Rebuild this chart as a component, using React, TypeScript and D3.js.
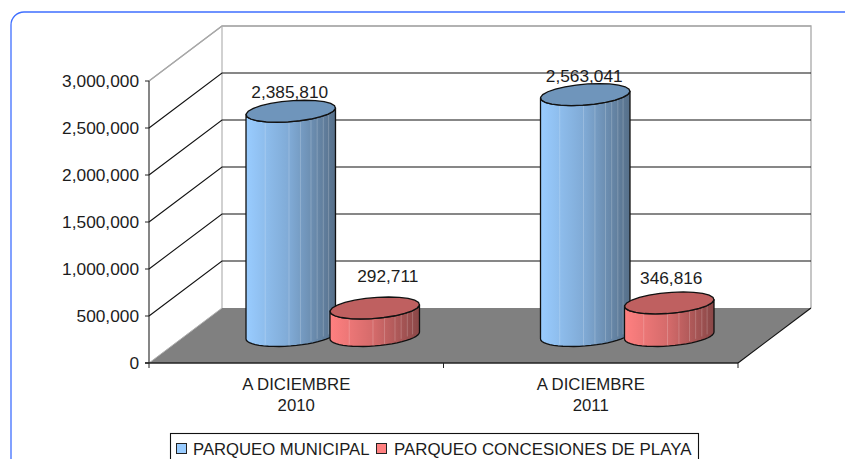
import React from "react";
import * as d3 from "d3";

const categories = ["A DICIEMBRE\n2010", "A DICIEMBRE\n2011"];
const municipal = [2385810, 2563041];
const concesiones = [292711, 346816];
const yTicks = [0, 500000, 1000000, 1500000, 2000000, 2500000, 3000000];
const seriesNames = ["PARQUEO MUNICIPAL", "PARQUEO CONCESIONES DE PLAYA"];
const facetStops = [0.21, 0.48, 0.61, 0.73, 0.8, 0.87, 0.93];

const W = 845, H = 459;
const front = { l: 149, r: 738, b: 363, t: 81 };
const depth = { x: 73, y: -55 };
const FONT = "'Liberation Sans', Arial, sans-serif";
const INK = "#1c1c1c";

const yFront = d3.scaleLinear().domain([0, 3000000]).range([front.b, front.t]);
const xFront = d3.scaleBand<number>().domain([0, 1]).range([front.l, front.r]);
const fmt = d3.format(",");

function Cylinder({ cx, value, id, top, stroke = "#111" }: { cx: number; value: number; id: string; top: string; stroke?: string }) {
  const rw = 44, ax = 42.5, dx = 14, dy = 11;
  const by = yFront(value) - yFront(0);
  const baseY = front.b + depth.y / 2;
  const topY = baseY + by;
  const ell = (cy: number, t: number): [number, number] => [cx + ax * Math.cos(t) + dx * Math.sin(t), cy - dy * Math.sin(t)];
  const tStart = Math.atan2(dx, ax);
  const top2 = d3.range(0, 25).map((i) => ell(topY, (i / 24) * 2 * Math.PI));
  const lowerArc = d3.range(0, 25).map((i) => ell(baseY, tStart + Math.PI + (i / 24) * Math.PI));
  const upperSide = d3.range(0, 25).map((i) => ell(topY, tStart + Math.PI + (i / 24) * Math.PI)).reverse();
  const line = d3.line();
  const body = "M" + lowerArc.map((p) => p.join(",")).join("L") + "L" + upperSide.map((p) => p.join(",")).join("L") + "Z";
  const arcAt = (f: number) => {
    const x = cx - rw + f * 2 * rw;
    const t = tStart + Math.PI + f * Math.PI;
    return { x, y1: ell(topY, t)[1], y2: ell(baseY, t)[1] };
  };
  return (
    <g>
      <path d={body} fill={`url(#${id})`} />
      {facetStops.map((f) => {
        const a = arcAt(f);
        return <line key={f} x1={a.x} x2={a.x} y1={a.y1} y2={a.y2} stroke="#fff" strokeOpacity={0.2} strokeWidth={1} />;
      })}
      <path d={body} fill="none" stroke={stroke} strokeWidth={1.3} strokeLinejoin="round" />
      <path d={line(top2) + "Z"} fill={top} stroke={stroke} strokeWidth={1.3} />
    </g>
  );
}

export default function App() {
  const fx = (v: number) => yFront(v);
  return (
    <svg width={W} height={H} viewBox={`0 0 ${W} ${H}`} style={{ position: "absolute", left: 0, top: 0, display: "block", background: "#fff" }} fontFamily={FONT}>
      <defs>
        <linearGradient id="blue" x1="0" x2="1" y1="0" y2="0">
          <stop offset="0" stopColor="#99CCFF" />
          <stop offset="0.5" stopColor="#7fa9d4" />
          <stop offset="1" stopColor="#566f89" />
        </linearGradient>
        <linearGradient id="red" x1="0" x2="1" y1="0" y2="0">
          <stop offset="0" stopColor="#FF8080" />
          <stop offset="0.5" stopColor="#d36a6a" />
          <stop offset="1" stopColor="#894747" />
        </linearGradient>
      </defs>

      <rect x={11} y={12} width={W + 40} height={H + 40} rx={13} fill="#fff" stroke="#3f6fff" strokeWidth={1.3} />

      {/* walls */}
      <polyline points={`${front.l},${front.t} ${front.l + depth.x},${front.t + depth.y} ${front.r + depth.x},${front.t + depth.y} ${front.r + depth.x},${front.b + depth.y}`} fill="none" stroke="#a8a8a8" strokeWidth={1.3} />
      <line x1={front.l + depth.x} x2={front.l + depth.x} y1={front.t + depth.y} y2={front.b + depth.y} stroke="#b8b8b8" strokeWidth={1.3} />

      {/* gridlines */}
      {yTicks.filter((t) => t > 0).map((t) => (
        <polyline
          key={t}
          points={`${front.l},${fx(t)} ${front.l + depth.x},${fx(t) + depth.y} ${front.r + depth.x},${fx(t) + depth.y}`}
          fill="none"
          stroke={t === 3000000 ? "#a8a8a8" : "#111"}
          strokeWidth={1.1}
        />
      ))}

      {/* floor */}
      <polygon points={`${front.l},${front.b} ${front.l + depth.x},${front.b + depth.y} ${front.r + depth.x},${front.b + depth.y} ${front.r},${front.b}`} fill="#808080" />
      <line x1={front.l} y1={front.b} x2={front.l + depth.x} y2={front.b + depth.y} stroke="#b0b0b0" strokeWidth={1} />
      <line x1={front.r} y1={front.b} x2={front.r + depth.x} y2={front.b + depth.y} stroke="#111" strokeWidth={1.1} />

      {/* axes */}
      <line x1={front.l} x2={front.l} y1={front.t} y2={front.b} stroke="#222" strokeWidth={1.1} />
      <line x1={front.l - 4} x2={front.r} y1={front.b} y2={front.b} stroke="#222" strokeWidth={1.4} />
      {yTicks.map((t) => (
        <g key={t}>
          <line x1={front.l - 4} x2={front.l} y1={fx(t)} y2={fx(t)} stroke="#222" />
          <text x={139} y={fx(t)} dy="0.36em" textAnchor="end" fontSize={17.3} fill={INK}>{fmt(t)}</text>
        </g>
      ))}
      {[0, 1, 2].map((i) => {
        const x = front.l + (i * (front.r - front.l)) / 2;
        return <line key={i} x1={x} x2={x} y1={front.b} y2={front.b + 5} stroke="#222" />;
      })}
      {categories.map((c, i) => {
        const cx = (xFront(i) as number) + xFront.bandwidth() / 2;
        const [a, b] = c.split("\n");
        return (
          <text key={c} textAnchor="middle" fontSize={16.8} fill={INK}>
            <tspan x={cx} y={390}>{a}</tspan>
            <tspan x={cx} y={411}>{b}</tspan>
          </text>
        );
      })}

      {/* cylinders */}
      {categories.map((_, i) => {
        const c = (xFront(i) as number) + xFront.bandwidth() / 2 + depth.x / 2;
        return (
          <g key={i}>
            <Cylinder cx={c - 42} value={municipal[i]} id="blue" top="#6f95bb" />
            <Cylinder cx={c + 42} value={concesiones[i]} id="red" top="#bf6060" />
          </g>
        );
      })}

      {/* value labels */}
      {categories.map((_, i) => {
        const c = (xFront(i) as number) + xFront.bandwidth() / 2 + depth.x / 2;
        const off = yFront(0) - (front.b + depth.y / 2);
        return (
          <g key={i} textAnchor="middle" fontSize={17.3} fill={INK}>
            <text x={c - 43} y={yFront(municipal[i]) - off - 13}>{fmt(municipal[i])}</text>
            <text x={c + 55 - i * 11} y={yFront(concesiones[i]) - off - 26 + i * 7}>{fmt(concesiones[i])}</text>
          </g>
        );
      })}

      {/* legend */}
      <rect x={170.5} y={433.5} width={528} height={40} fill="#fff" stroke="#111" strokeWidth={1.1} />
      <rect x={176.5} y={443.5} width={10} height={10} fill="#99CCFF" stroke="#222" />
      <text x={193} y={455} fontSize={16.7} fill={INK}>{seriesNames[0]}</text>
      <rect x={376.5} y={443.5} width={10} height={10} fill="#FF8080" stroke="#222" />
      <text x={394} y={455} fontSize={16.9} fill={INK}>{seriesNames[1]}</text>
    </svg>
  );
}
